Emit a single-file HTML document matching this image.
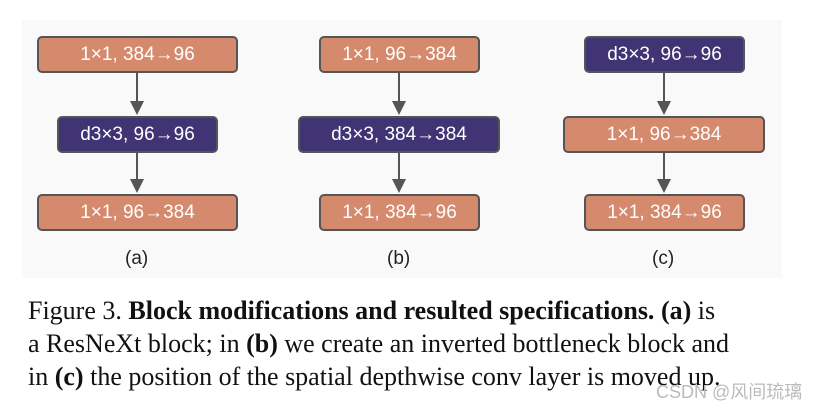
<!DOCTYPE html>
<html><head><style>
body{margin:0;width:828px;height:410px;background:#fff;position:relative;overflow:hidden}
.bg{position:absolute;left:22px;top:20px;width:760px;height:258px;background:#f9f9fa}
.b{position:absolute;height:33px;border:2px solid #555;border-radius:5px;color:#fff;font:19px "Liberation Sans",sans-serif;text-align:center;line-height:33px;box-sizing:content-box}
.o{background:#d58a6e}.p{background:#403474}
.ln{position:absolute;width:2px;background:#555}
.ah{position:absolute;width:0;height:0;border-left:7px solid transparent;border-right:7px solid transparent;border-top:14px solid #555}
.lab{position:absolute;font:19px "Liberation Sans",sans-serif;color:#222;top:248px}
.cap{position:absolute;left:28px;font:26px "Liberation Serif",serif;color:#111;white-space:nowrap}
.wm{position:absolute;left:656px;top:378px;font:18px "Liberation Sans","Noto Sans CJK SC",sans-serif;color:#bbb}
</style></head><body>
<div class="bg"></div>
<div class="b o" style="left:37px;top:36px;width:197px">1×1, 384→96</div>
<div class="b p" style="left:57px;top:116px;width:157px">d3×3, 96→96</div>
<div class="b o" style="left:37px;top:194px;width:197px">1×1, 96→384</div>
<div class="b o" style="left:319px;top:36px;width:157px">1×1, 96→384</div>
<div class="b p" style="left:298px;top:116px;width:198px">d3×3, 384→384</div>
<div class="b o" style="left:319px;top:194px;width:157px">1×1, 384→96</div>
<div class="b p" style="left:584px;top:36px;width:157px">d3×3, 96→96</div>
<div class="b o" style="left:563px;top:116px;width:198px">1×1, 96→384</div>
<div class="b o" style="left:584px;top:194px;width:157px">1×1, 384→96</div>

<div class="ln" style="left:136px;top:73px;height:30px"></div><div class="ah" style="left:130px;top:101px"></div>
<div class="ln" style="left:136px;top:153px;height:28px"></div><div class="ah" style="left:130px;top:179px"></div>
<div class="ln" style="left:398px;top:73px;height:30px"></div><div class="ah" style="left:392px;top:101px"></div>
<div class="ln" style="left:398px;top:153px;height:28px"></div><div class="ah" style="left:392px;top:179px"></div>
<div class="ln" style="left:663px;top:73px;height:30px"></div><div class="ah" style="left:657px;top:101px"></div>
<div class="ln" style="left:663px;top:153px;height:28px"></div><div class="ah" style="left:657px;top:179px"></div>

<div class="lab" style="left:125px">(a)</div>
<div class="lab" style="left:387px">(b)</div>
<div class="lab" style="left:652px">(c)</div>

<div class="cap" style="top:296px">Figure 3. <b>Block modifications and resulted specifications.</b> <b>(a)</b> is</div>
<div class="cap" style="top:329px">a ResNeXt block; in <b>(b)</b> we create an inverted bottleneck block and</div>
<div class="cap" style="top:362px">in <b>(c)</b> the position of the spatial depthwise conv layer is moved up.</div>
<div class="wm">CSDN @风间琉璃</div>
</body></html>
